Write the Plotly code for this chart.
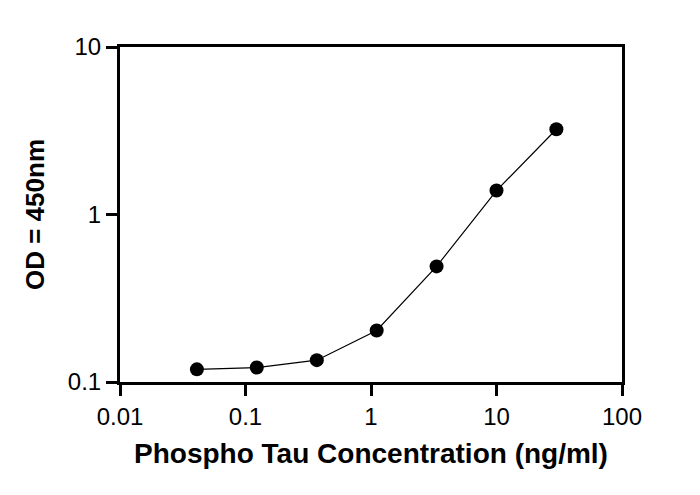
import plotly.graph_objects as go

# Phospho Tau standard curve (3-fold dilutions)
conc = [0.041, 0.123, 0.37, 1.11, 3.33, 10, 30]
od450 = [0.119, 0.122, 0.135, 0.203, 0.49, 1.39, 3.23]

x_ticks = [0.01, 0.1, 1, 10, 100]
x_labels = ['0.01', '0.1', '1', '10', '100']
y_ticks = [0.1, 1, 10]
y_labels = ['0.1', '1', '10']

font = 'Liberation Sans, Arial, sans-serif'

fig = go.Figure()
fig.add_trace(go.Scatter(
    x=conc, y=od450, mode='lines+markers',
    line=dict(color='black', width=1.2),
    marker=dict(color='black', size=14),
    showlegend=False,
))

axis_style = dict(
    type='log', showgrid=False, zeroline=False,
    showline=True, linecolor='black', linewidth=3, mirror=True,
    ticks='outside', ticklen=11, tickwidth=2.5, tickcolor='black',
    tickfont=dict(family=font, size=24, color='black'),
)

fig.update_xaxes(
    **axis_style, range=[-2, 2], tickvals=x_ticks, ticktext=x_labels,
    title=dict(text='<b>Phospho Tau Concentration (ng/ml)</b>',
               font=dict(family=font, size=28, color='black'), standoff=15),
)
fig.update_yaxes(
    **axis_style, range=[-1, 1], tickvals=y_ticks, ticktext=y_labels,
    title=dict(text='<b>OD = 450nm</b>',
               font=dict(family=font, size=26, color='black'), standoff=16),
)

# page body adds an 8px offset, so the figure is a bit smaller than the window
fig.update_layout(
    width=684, height=479,
    margin=dict(l=112, r=70, t=39, b=105),
    plot_bgcolor='white', paper_bgcolor='white',
)

fig.write_html("out.html")
